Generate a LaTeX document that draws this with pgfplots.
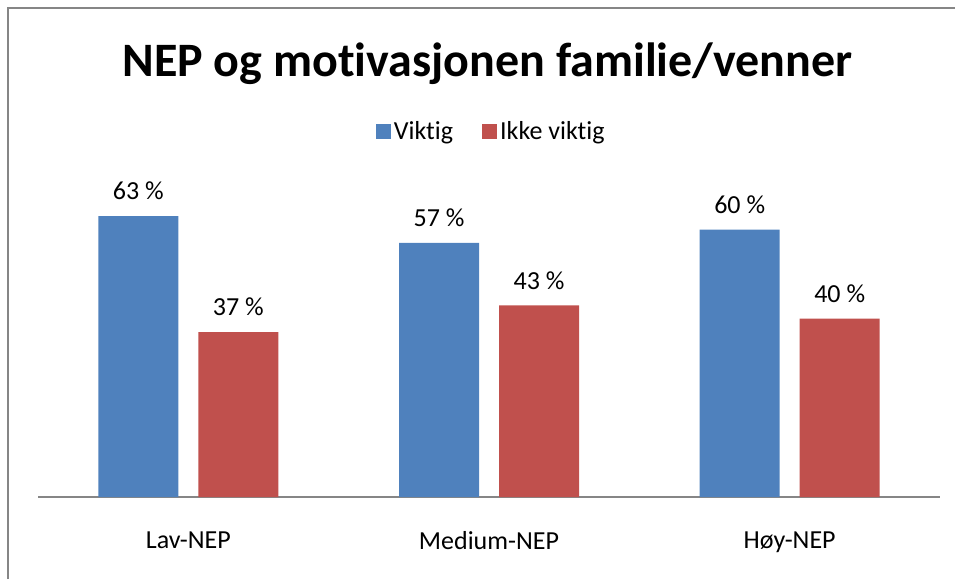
\documentclass[border=0pt]{standalone}
\usepackage{fontspec}
\setmainfont{Carlito}[Ligatures={NoCommon}]
\usepackage{pgfplots}
\pgfplotsset{compat=1.18}
\definecolor{xblue}{HTML}{4F81BD}
\definecolor{xred}{HTML}{C0504D}
\definecolor{xgray}{HTML}{868686}
\begin{document}
\begin{tikzpicture}[x=0.75pt,y=0.75pt]
\path[use as bounding box] (0,0) rectangle (955,579);
\draw[color=xgray, line width=1.5pt] (8,0) -- (8,571) -- (955,571);
\node[font=\bfseries\fontsize{36}{42}\selectfont, anchor=base, inner sep=0pt] at (487.5,502) {NEP og motivasjonen familie/venner};
\begin{axis}[
  at={(28.5pt,61.5pt)}, anchor=south west,
  scale only axis, width=676.5pt, height=234pt,
  ymin=0, ymax=70, xmin=-0.5, xmax=2.5,
  ybar=15pt, bar width=60pt,
  axis y line=none,
  axis x line=bottom,
  x axis line style={-, color=xgray, line width=1.5pt},
  xtick=data, xticklabels={Lav-NEP, Medium-NEP, Høy-NEP},
  major tick length=0pt,
  xticklabel style={font=\fontsize{19.5}{23}\selectfont, yshift=-22.5pt},
  /pgf/number format/assume math mode=true,
  nodes near coords={\pgfmathprintnumber{\pgfplotspointmeta}~\%},
  every node near coord/.append style={font=\fontsize{19.5}{23}\selectfont, text=black, yshift=8.5pt},
  clip=false,
  legend columns=2,
  legend style={draw=none, fill=none, at={(0.503,1.173)}, anchor=center,
    font=\fontsize{19.5}{23}\selectfont,
    /tikz/every even column/.append style={column sep=20pt}},
  legend image code/.code={\fill[#1] (-4pt,-5.6pt) rectangle (7.25pt,5.6pt);},
]
\addplot[fill=xblue, draw=none] coordinates {(0,63) (1,57) (2,60)};
\addplot[fill=xred, draw=none] coordinates {(0,37) (1,43) (2,40)};
\legend{Viktig, Ikke viktig}
\end{axis}
\end{tikzpicture}
\end{document}
